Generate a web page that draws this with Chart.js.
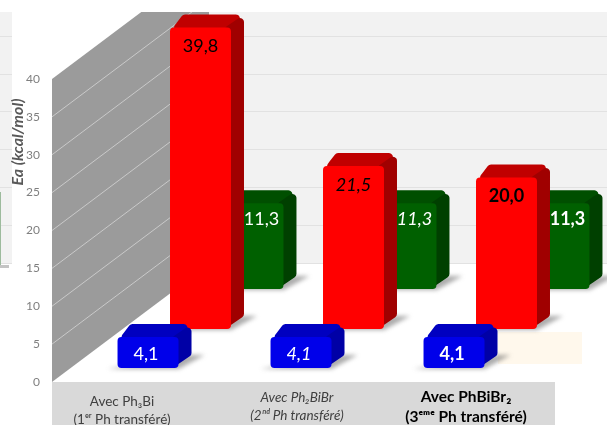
<!DOCTYPE html>
<html>
<head>
<meta charset="utf-8">
<style>body{margin:0;background:#fff}</style>
<script src="https://cdn.jsdelivr.net/npm/chart.js@4"></script>
</head>
<body>
<canvas id="myChart" width="607" height="425"></canvas>
<script>
var categories = [
  ['Avec Ph₃Bi', '(1ᵉʳ Ph transféré)'],
  ['Avec Ph₂BiBr', '(2ⁿᵈ Ph transféré)'],
  ['Avec PhBiBr₂', '(3ᵉᵐᵉ Ph transféré)']
];
var blueValues = [4.1, 4.1, 4.1];
var redValues = [39.8, 21.5, 20.0];
var greenValues = [11.3, 11.3, 11.3];
var yTicks = [0, 5, 10, 15, 20, 25, 30, 35, 40];
var yTitle = 'Ea (kcal/mol)';

var font = 'Lato, "Open Sans", sans-serif';
// tick labels are not centred under the groups in the original
var labelCentres = [122, 297, 466];
var labelMiddles = [402, 398, 397];
var DEPTH = 13;

// colours for front / top / side are set on each dataset
function barStyle(front, top, side, labelShift, labelDrop, color) {
  return {backgroundColor: front, topColor: top, sideColor: side, labelShift: labelShift, labelDrop: labelDrop, labelColor: color,
    borderRadius: 4, borderSkipped: false, clip: false, categoryPercentage: 1.029, barPercentage: 1.162};
}

function rounded(ctx, pts, r) {
  ctx.beginPath();
  ctx.moveTo((pts[0][0] + pts[1][0]) / 2, (pts[0][1] + pts[1][1]) / 2);
  for (var i = 1; i <= pts.length; i++) {
    var a = pts[i % pts.length], b = pts[(i + 1) % pts.length];
    ctx.arcTo(a[0], a[1], b[0], b[1], r);
  }
  ctx.closePath();
}

var depthPlugin = {
  id: 'depth',
  beforeDraw: function (chart) {
    var c = chart.ctx, y = chart.scales.y, back = chart.scales.yBack, x = chart.scales.x;
    var wallX = 209, top = 12, floor = back.getPixelForValue(0), slope = 0.75;
    c.save();
    // back wall, also the strip left of the white gap
    c.fillStyle = '#f2f2f2';
    c.fillRect(wallX, top, 607 - wallX, floor - top);
    c.fillRect(0, top, 12, floor - top);
    c.strokeStyle = '#e2e2e2';
    c.lineWidth = 1;
    yTicks.forEach(function (v) {
      var py = Math.round(back.getPixelForValue(v)) + 0.5;
      if (py < top) return;
      c.beginPath(); c.moveTo(wallX, py); c.lineTo(607, py); c.stroke();
      c.beginPath(); c.moveTo(0, py); c.lineTo(12, py); c.stroke();
    });
    // piece of a green bar cut off at the left edge, with its shadow
    c.fillStyle = '#9dbb9d';
    c.fillRect(0, 192, 1, 73);
    c.fillStyle = '#c4c4c4';
    c.fillRect(0, 265, 9, 3);
    // side wall
    var y0 = y.getPixelForValue(0), y40 = y.getPixelForValue(40);
    c.fillStyle = '#9b9b9b';
    c.beginPath();
    c.moveTo(52, y0);
    c.lineTo(52, y40);
    c.lineTo(52 + (y40 - top) / slope, top);
    c.lineTo(wallX, top);
    c.lineTo(wallX, y0 - (wallX - 52) * slope);
    c.closePath();
    c.fill();
    c.clip();
    c.strokeStyle = '#c9c9c9';
    yTicks.forEach(function (v) {
      if (v === 0 || v === 40) return;
      var py = y.getPixelForValue(v);
      c.beginPath(); c.moveTo(52, py); c.lineTo(wallX, py - (wallX - 52) * slope); c.stroke();
    });
    c.restore();
    // band under the axis
    c.fillStyle = '#d9d9d9';
    c.fillRect(52, y0, 503, 425 - y0);
    // pale box on the floor behind the last blue bar
    c.fillStyle = '#fff8ec';
    c.fillRect(498, 332, 84, 32);

    x.getLabelItems().forEach(function (item, i) {
      item.textOffset = 0;
      item.options.translation[0] = labelCentres[i];
      item.options.translation[1] = labelMiddles[i];
    });

    c.save();
    c.translate(18, 142);
    c.rotate(-Math.PI / 2);
    c.font = 'italic bold 16px ' + font;
    c.fillStyle = '#595959';
    c.textAlign = 'center';
    c.textBaseline = 'middle';
    c.fillText(yTitle, 0, 0);
    c.restore();
  },
  beforeDatasetDraw: function (chart, args) {
    var c = chart.ctx, ds = chart.data.datasets[args.index];
    args.meta.data.forEach(function (bar) {
      var l = bar.x - bar.width / 2, r = bar.x + bar.width / 2, t = bar.y, b = bar.base;
      c.save();
      // floor shadow
      c.filter = 'blur(2px)';
      c.fillStyle = 'rgba(90,90,90,0.5)';
      c.beginPath();
      c.moveTo(l - 10, b + 1);
      c.lineTo(r, b + 1);
      c.lineTo(r + DEPTH + 13, b - DEPTH);
      c.lineTo(r + DEPTH - 2, b - DEPTH);
      c.closePath();
      c.fill();
      c.filter = 'none';
      // top then side, pushed back along the depth direction
      c.fillStyle = ds.topColor;
      rounded(c, [[l, t + 4], [l + DEPTH, t - DEPTH], [r + DEPTH, t - DEPTH], [r, t + 4]], 4);
      c.fill();
      c.fillStyle = ds.sideColor;
      rounded(c, [[r - 6, t], [r + DEPTH, t - DEPTH], [r + DEPTH, b - DEPTH], [r - 6, b]], 4);
      c.fill();
      c.restore();
    });
  },
  afterDatasetDraw: function (chart, args) {
    var c = chart.ctx, ds = chart.data.datasets[args.index];
    args.meta.data.forEach(function (bar, i) {
      var style = i === 1 ? 'italic ' : i === 2 ? 'bold ' : '';
      c.save();
      c.font = style + '18px ' + font;
      c.fillStyle = ds.labelColor;
      c.textAlign = 'center';
      c.textBaseline = 'middle';
      c.fillText(ds.data[i].toFixed(1).replace('.', ','), bar.x + ds.labelShift, bar.y + ds.labelDrop);
      c.restore();
    });
  }
};

var ctx = document.getElementById('myChart').getContext('2d');
var chart = new Chart(ctx, {
  type: 'bar',
  data: {
    labels: categories,
    datasets: [
      Object.assign({data: blueValues, yAxisID: 'yBlue'}, barStyle('#0000ea', '#0000c0', '#0000a6', -2, 17, '#ffffff')),
      Object.assign({data: redValues, yAxisID: 'yRed'}, barStyle('#ff0000', '#c00000', '#a00000', 0, 19, '#000000')),
      Object.assign({data: greenValues, yAxisID: 'yGreen'}, barStyle('#006000', '#004f00', '#004000', 8.5, 16, '#ffffff'))
    ]
  },
  plugins: [depthPlugin],
  options: {
    responsive: false,
    animation: false,
    layout: {padding: {top: 12, right: 24}},
    plugins: {legend: {display: false}, tooltip: {enabled: false}},
    scales: {
      x: {
        grid: {display: false},
        border: {display: false},
        afterFit: function (s) { s.height = 43; },
        ticks: {
          autoSkip: false,
          maxRotation: 0,
          padding: 8,
          color: function (c) { return c.index === 2 ? '#000000' : '#404040'; },
          font: function (c) {
            return {family: font, size: c.index === 2 ? 15.5 : 13.5,
              style: c.index === 1 ? 'italic' : 'normal', weight: c.index === 2 ? 'bold' : 'normal', lineHeight: 1.3};
          }
        }
      },
      // visible axis sits at the front corner of the side wall
      y: {
        min: 0, max: 48.84,
        position: 'left',
        grid: {display: false, drawTicks: false},
        border: {display: false},
        afterBuildTicks: function (s) { s.ticks = yTicks.map(function (v) { return {value: v}; }); },
        // tick padding would otherwise also shrink the plot height
        afterFit: function (s) { s.width = 124; s.paddingTop = 0; s.paddingBottom = 0; },
        ticks: {padding: 84, color: '#7f7f7f', font: {family: font, size: 12}}
      },
      // same unit size as y, each depth row has its zero further up
      yBlue: {display: false, min: -1.85, max: 46.99},
      yRed: {display: false, min: -7, max: 41.84},
      yGreen: {display: false, min: -12.28, max: 36.56},
      yBack: {display: false, min: -15.71, max: 33.13}
    }
  }
});
</script>
</body>
</html>
